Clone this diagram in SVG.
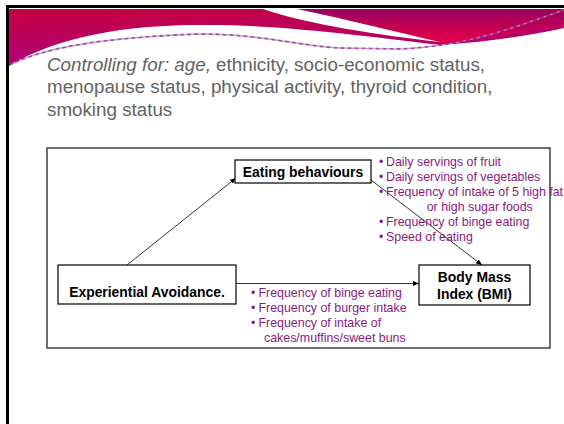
<svg xmlns="http://www.w3.org/2000/svg" width="564" height="424" viewBox="0 0 564 424">
<defs>
<linearGradient id="gBase" x1="0" y1="0" x2="0.3" y2="1">
<stop offset="0" stop-color="#c4003e"/>
<stop offset="1" stop-color="#b0007e"/>
</linearGradient>
<linearGradient id="gRight" x1="0" y1="0" x2="0" y2="1">
<stop offset="0" stop-color="#980060"/>
<stop offset="1" stop-color="#ea0046"/>
</linearGradient>
<marker id="arr" markerUnits="userSpaceOnUse" markerWidth="7" markerHeight="6" refX="6" refY="2.5" orient="auto">
<path d="M0,0 L6,2.5 L0,5 Z" fill="#000"/>
</marker>
<style>
.hdr{font-family:"Liberation Sans",Arial,sans-serif;font-size:18.8px;fill:#636363}
.node{fill:#fff;stroke:#000;stroke-width:1.2}
.lbl{font-family:"Liberation Sans",Arial,sans-serif;font-size:13.9px;font-weight:bold;fill:#000}
.lst{font-family:"Liberation Sans",Arial,sans-serif;font-size:12.4px;fill:#8b1a7f}
.con{fill:none;stroke:#000;stroke-width:0.8;marker-end:url(#arr)}
</style>
</defs>
<rect width="564" height="424" fill="#fff"/>
<!-- banner -->
<path d="M9,9 H564 V28 Q510,40 440,45 C380,38 280,24 200,25 C130,25 60,35 9,66 Z" fill="url(#gBase)"/>
<path d="M297,9 H564 V20 C520,32 480,40 440,43 C400,33 350,20 297,9 Z" fill="url(#gRight)"/>
<path d="M263,9 L297,9 C350,20 400,33 440,42 C380,35 310,25 263,9 Z" fill="#fff"/>
<path d="M9,65 C40,50 90,38 200,34 C260,34 300,46 340,48 L400,49 C470,46 520,25 564,10" fill="none" stroke="#7a3aa0" stroke-width="1.8" stroke-dasharray="4 3" opacity="0.85"/>
<path d="M9,65 C40,50 90,38 200,34 C260,34 300,46 340,48 L400,49 C470,46 520,25 564,10" fill="none" stroke="#e27ab8" stroke-width="1.5" stroke-dasharray="3 4" stroke-dashoffset="3" opacity="0.85"/>
<rect x="6" y="5" width="558" height="3" fill="#000"/>
<rect x="6" y="5" width="3" height="419" fill="#000"/>
<!-- header -->
<text class="hdr" x="47" y="70.5"><tspan font-style="italic">Controlling for: age,</tspan> ethnicity, socio-economic status,</text>
<text class="hdr" x="47" y="93">menopause status, physical activity, thyroid condition,</text>
<text class="hdr" x="47" y="115.5">smoking status</text>
<!-- frame -->
<rect x="47" y="148" width="503" height="200" fill="none" stroke="#404040" stroke-width="1.5"/>
<g id="connectors">
<line class="con" x1="127" y1="265" x2="236" y2="178"/>
<line class="con" x1="371" y1="180" x2="482" y2="265"/>
<line class="con" x1="236" y1="283.5" x2="419" y2="283.5"/>
</g>
<g id="eating">
<rect class="node" x="235" y="160" width="136" height="23"/>
<text class="lbl" x="303" y="177" text-anchor="middle">Eating behaviours</text>
</g>
<g id="experiential">
<rect class="node" x="58" y="265" width="178" height="39"/>
<text class="lbl" x="147" y="297" text-anchor="middle">Experiential Avoidance.</text>
</g>
<g id="bmi">
<rect class="node" x="419" y="265" width="111" height="40"/>
<text class="lbl" x="474.5" y="282" text-anchor="middle">Body Mass</text>
<text class="lbl" x="474.5" y="299" text-anchor="middle">Index (BMI)</text>
</g>
<g id="eating-list" class="lst">
<text x="379" y="165.5">•</text><text x="386" y="165.5">Daily servings of fruit</text>
<text x="379" y="180.5">•</text><text x="386" y="180.5">Daily servings of vegetables</text>
<text x="379" y="195.5">•</text><text x="386" y="195.5">Frequency of intake of 5 high fat</text>
<text x="426.7" y="210.5">or high sugar foods</text>
<text x="379" y="225.5">•</text><text x="386" y="225.5">Frequency of binge eating</text>
<text x="379" y="240.5">•</text><text x="386" y="240.5">Speed of eating</text>
</g>
<g id="direct-list" class="lst">
<text x="251" y="296.5">•</text><text x="258.5" y="296.5">Frequency of binge eating</text>
<text x="251" y="311.5">•</text><text x="258.5" y="311.5">Frequency of burger intake</text>
<text x="251" y="326.5">•</text><text x="258.5" y="326.5">Frequency of intake of</text>
<text x="264" y="341.5">cakes/muffins/sweet buns</text>
</g>
</svg>
